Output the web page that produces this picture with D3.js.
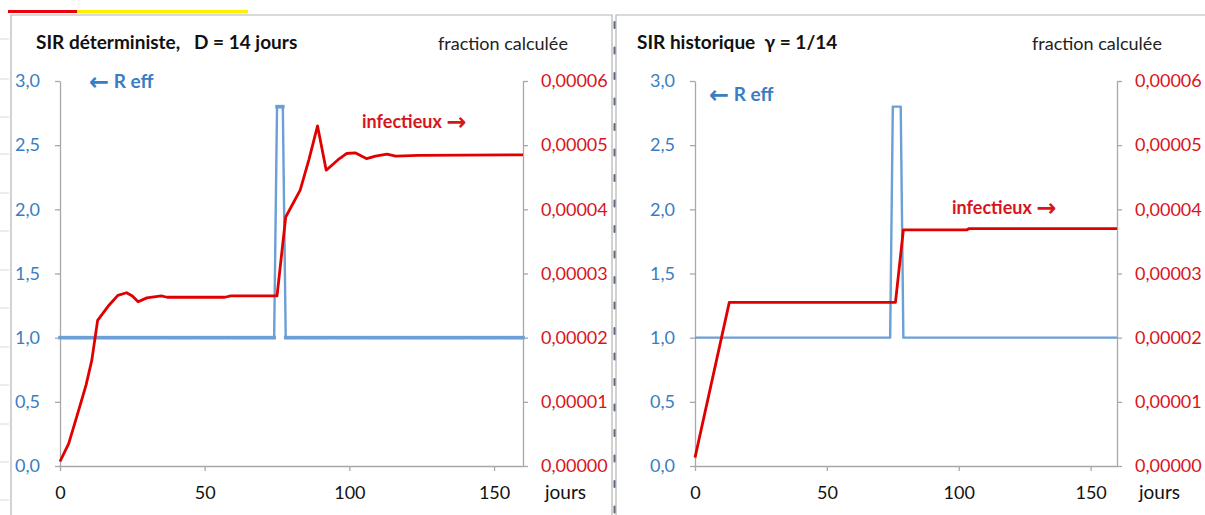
<!DOCTYPE html>
<html>
<head>
<meta charset="utf-8">
<script src="https://cdn.jsdelivr.net/npm/d3@7"></script>
<style>
  body { margin: 0; background: #fff; }
  svg { display: block; }
  text { font-family: Lato, "Noto Sans", sans-serif; }
</style>
</head>
<body>
<svg id="chart" width="1205" height="515"></svg>
<script>
// ---- data ----
const xTicks = [0, 50, 100, 150];
const reffTicks = [0, 0.5, 1, 1.5, 2, 2.5, 3];
const fracTicks = [0, 0.00001, 0.00002, 0.00003, 0.00004, 0.00005, 0.00006];

// left: SIR deterministe, R eff for each day 0..160
const reffDet = [
  1,1,1,1,1,1,1,1,1,1, 1,1,1,1,1,1,1,1,1,1, 1,1,1,1,1,1,1,1,1,1,
  1,1,1,1,1,1,1,1,1,1, 1,1,1,1,1,1,1,1,1,1, 1,1,1,1,1,1,1,1,1,1,
  1,1,1,1,1,1,1,1,1,1, 1,1,1,1,1,2.8,2.8,2.8,1,1, 1,1,1,1,1,1,1,1,1,1,
  1,1,1,1,1,1,1,1,1,1, 1,1,1,1,1,1,1,1,1,1, 1,1,1,1,1,1,1,1,1,1,
  1,1,1,1,1,1,1,1,1,1, 1,1,1,1,1,1,1,1,1,1, 1,1,1,1,1,1,1,1,1,1,
  1,1,1,1,1,1,1,1,1,1, 1
];
const infDetDays = [0, 3, 6, 9, 11, 13, 17, 20, 23, 25, 27, 30, 35, 37, 57, 59, 75, 78,
  83, 86, 89, 92, 96, 99, 102, 106, 109, 113, 116, 124, 160];
const infDetValues = [0.0000007, 0.0000035, 0.0000080, 0.0000126, 0.0000165, 0.0000227,
  0.0000251, 0.0000266, 0.0000270, 0.0000265, 0.0000256, 0.0000262, 0.0000265, 0.0000263,
  0.0000263, 0.0000265, 0.0000265, 0.0000388, 0.0000430, 0.0000477, 0.0000530, 0.0000461,
  0.0000477, 0.0000487, 0.0000488, 0.0000479, 0.0000483, 0.0000486, 0.0000483, 0.0000484,
  0.0000485];

// right: SIR historique
const reffHistDays = [0, 74, 75, 78, 79, 160];
const reffHistValues = [1, 1, 2.8, 2.8, 1, 1];
const infHistDays = [0, 13, 76, 79, 103, 104, 160];
const infHistValues = [0.0000013, 0.0000255, 0.0000255, 0.0000368, 0.0000368, 0.0000370, 0.0000370];

// ---- drawing ----
const svg = d3.select("#chart");
const blueLine = "#6c9fd5", blueText = "#3a7dc1", redLine = "#e00000", redText = "#d8141c";
const axisGrey = "#a8a8a8";
const arrowFont = "'DejaVu Sans', sans-serif";

// window decorations (spreadsheet frame)
svg.append("rect").attr("x", 8).attr("y", 10).attr("width", 69).attr("height", 3).attr("fill", "#e8000b");
svg.append("rect").attr("x", 77).attr("y", 10).attr("width", 171).attr("height", 3).attr("fill", "#fff200");
[39, 79, 117, 154, 193, 231, 270, 308, 347, 385, 424, 462, 500].forEach(y => {
  svg.append("line").attr("x1", 0).attr("x2", 9).attr("y1", y).attr("y2", y)
    .attr("stroke", "#d8d8d8");
});
svg.append("path").attr("d", "M11,515V15H612V515").attr("fill", "none").attr("stroke", "#b4b4b4").attr("stroke-width", 1.2);
svg.append("path").attr("d", "M616,515V15H1205").attr("fill", "none").attr("stroke", "#b4b4b4").attr("stroke-width", 1.2);
d3.range(21, 515, 25.5).forEach(y => {
  svg.append("rect").attr("x", 613.5).attr("y", y).attr("width", 2).attr("height", 8)
    .attr("rx", 1).attr("fill", "#5b6b7c");
});

function fr(v, n) { return v.toFixed(n).replace(".", ","); }

function panel(cfg) {
  const x = d3.scaleLinear().domain([0, 160]).range([cfg.left, cfg.right]);
  const yL = d3.scaleLinear().domain([0, 3]).range([466, 81]);
  const yR = d3.scaleLinear().domain([0, 0.00006]).range([466, 81]);
  const g = svg.append("g");

  const ax = g.append("g").attr("transform", "translate(0,466)")
    .call(d3.axisBottom(x).tickValues(xTicks).tickSize(5).tickSizeOuter(0).tickPadding(15));
  const al = g.append("g").attr("transform", `translate(${cfg.left},0)`)
    .call(d3.axisLeft(yL).tickValues(reffTicks).tickSize(5).tickSizeOuter(0).tickPadding(15)
      .tickFormat(d => fr(d, 1)));
  const ar = g.append("g").attr("transform", `translate(${cfg.right},0)`)
    .call(d3.axisRight(yR).tickValues(fracTicks).tickSize(5).tickSizeOuter(0).tickPadding(13)
      .tickFormat(d => fr(d, 5)));
  [ax, al, ar].forEach(a => {
    a.selectAll("path, line").attr("stroke", axisGrey).attr("stroke-width", 1.3);
    a.selectAll("text").attr("font-size", 18).attr("font-family", "Lato, 'Noto Sans', sans-serif");
  });
  ax.selectAll("text").attr("fill", "#111");
  al.selectAll("text").attr("fill", blueText);
  ar.selectAll("text").attr("fill", redText);

  // R eff
  const reff = cfg.reffDays.map((d, i) => [d, cfg.reffValues[i]]);
  g.append("path").datum(reff)
    .attr("fill", "none").attr("stroke", blueLine).attr("stroke-width", 2.4)
    .attr("stroke-linejoin", "round")
    .attr("d", d3.line().x(d => x(d[0])).y(d => yL(d[1])));
  if (cfg.markers) {
    g.append("g").selectAll("rect").data(reff).join("rect")
      .attr("x", d => x(d[0]) - 1.8).attr("y", d => yL(d[1]) - 1.8)
      .attr("width", 3.6).attr("height", 3.6).attr("fill", blueLine);
  }
  // infectieux
  const inf = cfg.infDays.map((d, i) => [d, cfg.infValues[i]]);
  g.append("path").datum(inf)
    .attr("fill", "none").attr("stroke", redLine).attr("stroke-width", 2.8)
    .attr("stroke-linejoin", "round")
    .attr("d", d3.line().x(d => x(d[0])).y(d => yR(d[1])));

  // texts
  g.append("text").attr("x", cfg.titleX).attr("y", 49).attr("font-size", 19).attr("font-weight", "bold")
    .attr("fill", "#111").style("white-space", "pre").text(cfg.title);
  g.append("text").attr("x", cfg.fracX).attr("y", 50).attr("font-size", 18).attr("fill", "#222")
    .text("fraction calculée");
  const tr = g.append("text").attr("x", cfg.reffX).attr("y", cfg.reffY).attr("font-size", 19)
    .attr("font-weight", "bold").attr("fill", blueText).style("white-space", "pre");
  tr.append("tspan").attr("font-family", arrowFont).attr("font-size", 24).attr("dy", 2).text("←");
  tr.append("tspan").attr("dy", -2).text(" R eff");
  const ti = g.append("text").attr("x", cfg.infX).attr("y", cfg.infY).attr("font-size", 18)
    .attr("font-weight", "bold").attr("fill", redText).style("white-space", "pre");
  ti.append("tspan").text("infectieux ");
  ti.append("tspan").attr("font-family", arrowFont).attr("font-size", 24).attr("dy", 2).text("→");
  g.append("text").attr("x", cfg.right + 22).attr("y", 499).attr("font-size", 19).attr("fill", "#111")
    .text("jours");
}

panel({
  left: 60, right: 523, markers: true,
  reffDays: reffDet.map((v, i) => i), reffValues: reffDet,
  infDays: infDetDays, infValues: infDetValues,
  title: "SIR déterministe,   D = 14 jours", titleX: 36, fracX: 438,
  reffX: 89, reffY: 88, infX: 362, infY: 128
});
panel({
  left: 695, right: 1117, markers: false,
  reffDays: reffHistDays, reffValues: reffHistValues,
  infDays: infHistDays, infValues: infHistValues,
  title: "SIR historique  γ = 1/14", titleX: 637, fracX: 1032,
  reffX: 709, reffY: 101, infX: 952, infY: 214
});
</script>
</body>
</html>
